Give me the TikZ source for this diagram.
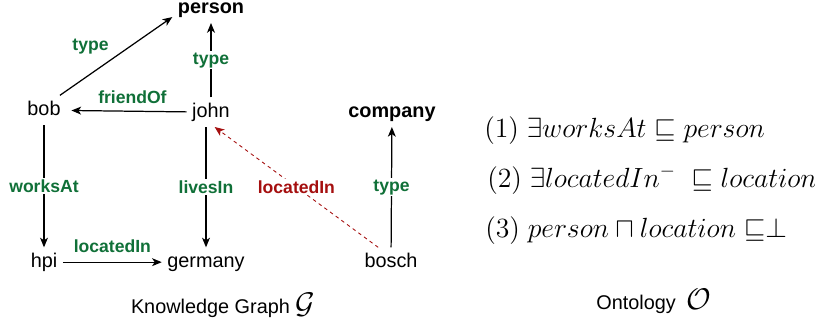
\documentclass[tikz,border=0pt]{standalone}
\usepackage{fix-cm}
\usepackage{amssymb}
\usepackage[no-math]{fontspec}
\setmainfont{Liberation Sans}
\usetikzlibrary{calc,arrows.meta}

\definecolor{relgreen}{RGB}{16,112,56}
\definecolor{reldred}{RGB}{165,15,15}

\begin{document}
\begin{tikzpicture}[x=0.02cm, y=-0.02cm,
		ent/.style={anchor=base, inner sep=3pt, text height=8pt, text depth=2.5pt, font=\fontsize{11.3}{13}\selectfont},
		cls/.style={ent, font=\fontsize{11.3}{13}\selectfont\bfseries},
		rel/.style={inner sep=1pt, text=relgreen, font=\fontsize{10}{12}\selectfont\bfseries},
		online/.style={rel, fill=white},
		axiom/.style={anchor=base west, inner sep=0pt, font=\fontsize{15.8}{19}\selectfont},
		edge/.style={-{Stealth[length=5.5pt, width=4.5pt, inset=1.5pt]}, line width=0.7pt}]
			%%%%% START %%%%%
			
			\useasboundingbox (0, 0) rectangle (815, 322);
			
			\node[cls] (person) at (211, 13) {person};
			\node[ent] (bob) at (44, 115) {bob};
			\node[ent] (john) at (211, 117) {john};
			\node[cls] (company) at (392, 117) {company};
			\node[ent] (hpi) at (44, 267) {hpi};
			\node[ent] (germany) at (206, 267) {germany};
			\node[ent] (bosch) at (391, 267) {bosch};
			
			\draw[edge] (bob.43) -- node[rel, pos=0.47, above left=1pt] {type} ($(person.south west)!0.4!(person.west)$);
			\draw[edge] (john) -- node[online] {type} (person);
			\draw[edge, shorten >=3pt] (john) -- node[rel, pos=0.45, above=3pt] {friendOf} (bob);
			
			\draw[edge] (bob) -- node[online] {worksAt} (hpi);
			\draw[edge] (germany |- john.south) -- node[online] {livesIn} (germany);
			\draw[edge] (hpi) -- node[rel, above=4pt] {locatedIn} (germany);
			
			\draw[edge, color=reldred, line width=0.5pt, dash pattern=on 2pt off 2pt] ($(bosch.north)!0.4!(bosch.north west)$) -- node[online, text=reldred] {locatedIn} ($(john.south)!0.15!(john.south east)$);
			\draw[edge] (bosch) -- node[online] {type} (company);
			
			\node[axiom] (ax1) at (484, 137) {$(1)\ \exists worksAt \sqsubseteq person$};
			\node[axiom] (ax2) at (487, 187) {$(2)\ \exists locatedIn^{-}\ \sqsubseteq location$};
			\node[axiom] (ax3) at (485, 237) {$(3)\ person \sqcap location \;{\sqsubseteq}\bot$};
			
			\node[ent] (kgcap) at (223, 313) {Knowledge Graph {\fontsize{17}{20}\selectfont$\mathcal{G}$}};
			\node[ent] (ontcap) at (654, 309) {Ontology\ \ {\fontsize{17}{20}\selectfont$\mathcal{O}$}};
			
			%%%%% END %%%%%
		\end{tikzpicture}
\end{document}
